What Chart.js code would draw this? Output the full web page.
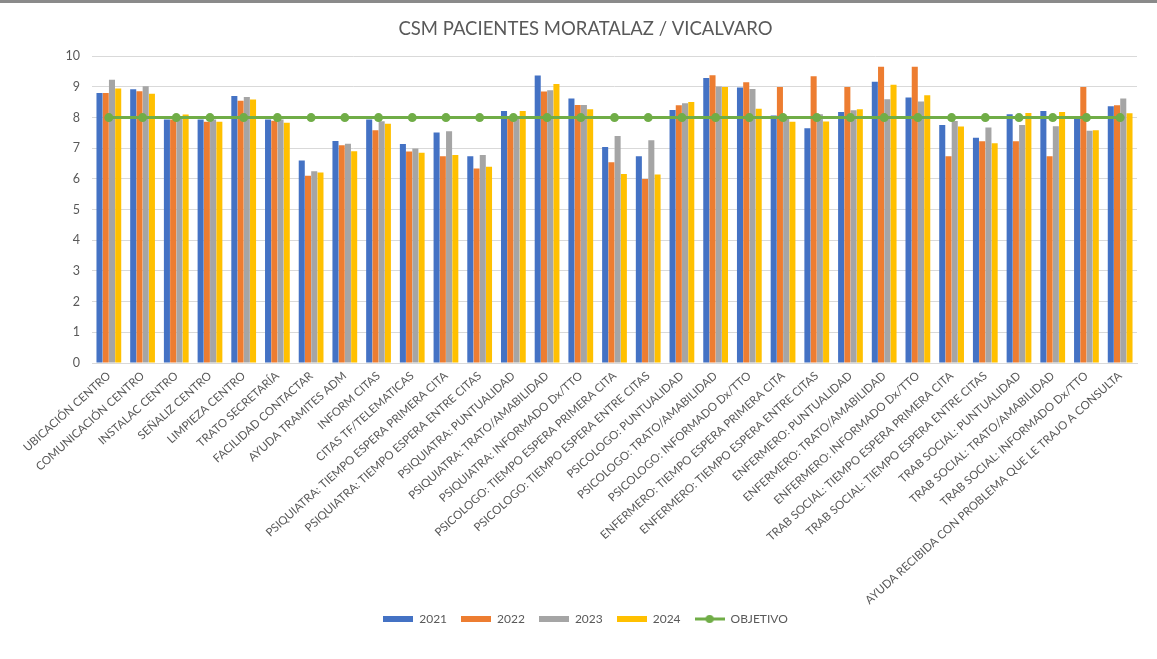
<!DOCTYPE html>
<html>
<head>
<meta charset="utf-8">
<script src="https://cdn.jsdelivr.net/npm/chart.js@4.4.1/dist/chart.umd.min.js"></script>
<style>
  html, body { margin: 0; padding: 0; background: #fff; }
  #wrap { position: absolute; left: 0; top: 0; width: 1157px; height: 659px; }
  #topline { position: absolute; left: 0; top: 0; width: 1157px; height: 3px; background: #8a8a8a; }
  canvas { position: absolute; left: 0; top: 0; }
</style>
</head>
<body>
<div id="wrap"><canvas id="c" width="1157" height="659"></canvas><div id="topline"></div></div>
<script>
const categories = [
  "UBICACIÓN CENTRO", "COMUNICACIÓN CENTRO", "INSTALAC CENTRO", "SEÑALIZ CENTRO", "LIMPIEZA CENTRO",
  "TRATO SECRETARÍA", "FACILIDAD CONTACTAR", "AYUDA TRAMITES ADM", "INFORM CITAS", "CITAS TF/TELEMATICAS",
  "PSIQUIATRA: TIEMPO ESPERA PRIMERA CITA", "PSIQUIATRA: TIEMPO ESPERA ENTRE CITAS", "PSIQUIATRA: PUNTUALIDAD",
  "PSIQUIATRA: TRATO/AMABILIDAD", "PSIQUIATRA: INFORMADO Dx/TTO", "PSICOLOGO: TIEMPO ESPERA PRIMERA CITA",
  "PSICOLOGO: TIEMPO ESPERA ENTRE CITAS", "PSICOLOGO: PUNTUALIDAD", "PSICOLOGO: TRATO/AMABILIDAD",
  "PSICOLOGO: INFORMADO Dx/TTO", "ENFERMERO: TIEMPO ESPERA PRIMERA CITA", "ENFERMERO: TIEMPO ESPERA ENTRE CITAS",
  "ENFERMERO: PUNTUALIDAD", "ENFERMERO: TRATO/AMABILIDAD", "ENFERMERO: INFORMADO Dx/TTO",
  "TRAB SOCIAL: TIEMPO ESPERA PRIMERA CITA", "TRAB SOCIAL: TIEMPO ESPERA ENTRE CITAS", "TRAB SOCIAL: PUNTUALIDAD",
  "TRAB SOCIAL: TRATO/AMABILIDAD", "TRAB SOCIAL: INFORMADO Dx/TTO", "AYUDA RECIBIDA CON PROBLEMA QUE LE TRAJO A CONSULTA"
];
const v2021 = [8.80, 8.92, 7.94, 7.94, 8.70, 7.94, 6.60, 7.24, 7.94, 7.14, 7.51, 6.74, 8.21, 9.37, 8.62, 7.04, 6.74, 8.25, 9.29, 8.98, 8.07, 7.65, 8.18, 9.17, 8.65, 7.76, 7.34, 8.11, 8.21, 7.97, 8.37];
const v2022 = [8.80, 8.86, 7.94, 7.86, 8.55, 7.90, 6.10, 7.10, 7.59, 6.89, 6.74, 6.34, 8.00, 8.85, 8.41, 6.54, 6.00, 8.40, 9.38, 9.15, 9.00, 9.35, 9.00, 9.66, 9.66, 6.74, 7.23, 7.23, 6.74, 9.00, 8.40];
const v2023 = [9.23, 9.02, 7.97, 7.94, 8.67, 7.94, 6.25, 7.15, 7.88, 6.99, 7.55, 6.78, 8.00, 8.89, 8.41, 7.40, 7.26, 8.47, 9.01, 8.93, 8.03, 8.11, 8.24, 8.60, 8.52, 7.89, 7.68, 7.76, 7.72, 7.57, 8.62];
const v2024 = [8.95, 8.78, 8.10, 7.86, 8.59, 7.83, 6.21, 6.90, 7.80, 6.85, 6.78, 6.40, 8.21, 9.09, 8.27, 6.16, 6.14, 8.51, 9.00, 8.29, 7.86, 7.87, 8.27, 9.07, 8.73, 7.71, 7.16, 8.15, 8.18, 7.59, 8.14];
const objetivo = [8, 8, 8, 8, 8, 8, 8, 8, 8, 8, 8, 8, 8, 8, 8, 8, 8, 8, 8, 8, 8, 8, 8, 8, 8, 8, 8, 8, 8, 8, 8];
const seriesNames = ["2021", "2022", "2023", "2024", "OBJETIVO"];
const yTicks = [0, 1, 2, 3, 4, 5, 6, 7, 8, 9, 10];

const FONT = "Lato, 'Open Sans', sans-serif";
const TXT = "#595959";
const colors = ["#4472C4", "#ED7D31", "#A5A5A5", "#FFC000", "#70AD47"];

function rectIcon(color) {
  const c = document.createElement('canvas');
  c.width = 30; c.height = 6;
  const x = c.getContext('2d');
  x.fillStyle = color; x.fillRect(0, 0, 30, 6);
  return c;
}
function lineIcon(color) {
  const c = document.createElement('canvas');
  c.width = 30; c.height = 10;
  const x = c.getContext('2d');
  x.strokeStyle = color; x.lineWidth = 3;
  x.beginPath(); x.moveTo(0, 5); x.lineTo(30, 5); x.stroke();
  x.fillStyle = color; x.beginPath(); x.arc(15, 5, 4, 0, Math.PI * 2); x.fill();
  return c;
}

const barVals = [v2021, v2022, v2023, v2024];
const datasets = barVals.map((vals, i) => ({
  type: 'bar',
  label: seriesNames[i],
  data: vals,
  backgroundColor: colors[i],
  borderWidth: 0,
  categoryPercentage: 0.74,
  barPercentage: 0.97,
  order: 1
}));
datasets.push({
  type: 'line',
  label: seriesNames[4],
  data: objetivo,
  borderColor: colors[4],
  backgroundColor: colors[4],
  borderWidth: 3,
  pointRadius: 4.5,
  pointBackgroundColor: colors[4],
  pointBorderWidth: 0,
  tension: 0,
  order: 0
});

new Chart(document.getElementById('c'), {
  data: { labels: categories, datasets: datasets },
  options: {
    responsive: false,
    animation: false,
    layout: { padding: { left: 34, right: 20, top: 6, bottom: 24 } },
    plugins: {
      title: {
        display: true,
        text: "CSM PACIENTES MORATALAZ / VICALVARO",
        color: TXT,
        font: { family: FONT, size: 18.5, weight: 'normal' },
        padding: { top: 12, bottom: 16 }
      },
      legend: {
        position: 'bottom',
        labels: {
          color: TXT,
          font: { family: FONT, size: 12 },
          usePointStyle: true,
          pointStyleWidth: 30,
          boxHeight: 8,
          padding: 14,
          sort: (a, b) => a.datasetIndex - b.datasetIndex,
          generateLabels: (chart) => chart.data.datasets.map((ds, i) => ({
            text: ds.label,
            datasetIndex: i,
            fontColor: TXT,
            hidden: false,
            lineWidth: 0,
            strokeStyle: 'transparent',
            fillStyle: colors[i],
            pointStyle: ds.type === 'line' ? lineIcon(colors[i]) : rectIcon(colors[i])
          }))
        }
      },
      tooltip: { enabled: false }
    },
    scales: {
      x: {
        grid: { display: false, drawTicks: false },
        border: { color: '#d9d9d9', width: 1 },
        ticks: {
          color: TXT,
          font: { family: FONT, size: 11.5 },
          autoSkip: false,
          minRotation: 42,
          maxRotation: 42,
          padding: 6
        },
        afterFit: (s) => { s.height = 236; s._computeLabelArea = () => undefined; }
      },
      y: {
        min: 0, max: 10,
        afterBuildTicks: (s) => { s.ticks = yTicks.map(v => ({ value: v })); },
        grid: { color: '#d9d9d9', drawTicks: false },
        border: { display: false },
        ticks: {
          color: TXT,
          font: { family: FONT, size: 12.5 },
          padding: 12
        },
        afterFit: (s) => { s.width = 58; }
      }
    }
  }
});
</script>
</body>
</html>
